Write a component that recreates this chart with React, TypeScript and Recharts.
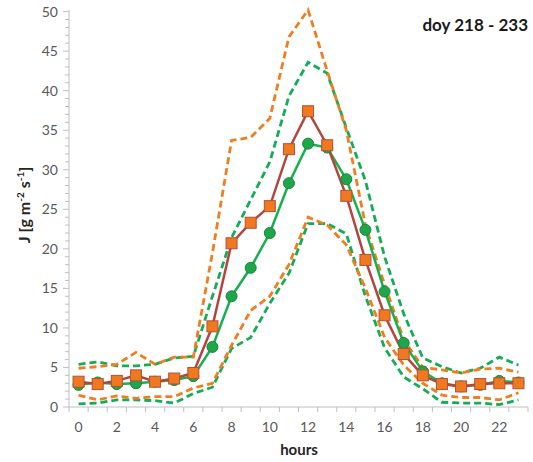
import { Line, LineChart, XAxis, YAxis } from "recharts";

const hours = [0, 1, 2, 3, 4, 5, 6, 7, 8, 9, 10, 11, 12, 13, 14, 15, 16, 17, 18, 19, 20, 21, 22, 23];
const orangeMean = [3.2, 2.9, 3.3, 4.0, 3.2, 3.6, 4.3, 10.2, 20.7, 23.3, 25.4, 32.6, 37.4, 33.1, 26.7, 18.6, 11.6, 6.7, 4.0, 2.9, 2.6, 2.9, 3.0, 3.0];
const greenMean = [2.8, 3.1, 2.9, 3.0, 3.2, 3.4, 3.9, 7.6, 14.0, 17.6, 22.0, 28.3, 33.3, 32.8, 28.8, 22.4, 14.6, 8.1, 4.5, 3.0, 2.6, 2.8, 3.3, 3.1];
const orangeUpper = [4.9, 5.1, 5.4, 6.9, 5.4, 6.3, 6.3, 19.5, 33.7, 34.1, 36.5, 46.8, 50.2, 42.5, 35.0, 23.0, 15.5, 8.5, 5.0, 4.7, 4.3, 4.8, 4.9, 4.4];
const greenUpper = [5.4, 5.7, 5.2, 5.2, 5.4, 6.2, 6.4, 14.0, 21.4, 26.2, 31.0, 39.3, 43.6, 42.2, 35.3, 28.6, 19.0, 11.8, 6.2, 5.1, 4.3, 4.9, 6.3, 5.3];
const orangeLower = [1.5, 0.9, 1.4, 1.1, 1.3, 1.3, 2.4, 3.0, 7.8, 12.2, 14.0, 18.0, 24.0, 23.0, 20.5, 15.0, 8.8, 5.3, 3.0, 1.5, 1.2, 1.2, 0.9, 1.8];
const greenLower = [0.4, 0.5, 0.9, 0.9, 0.8, 0.5, 1.7, 2.5, 7.4, 8.8, 13.1, 16.9, 23.2, 23.2, 21.9, 14.0, 7.5, 3.8, 2.3, 0.6, 0.5, 0.5, 0.3, 0.9];

const xLabels = [0, 2, 4, 6, 8, 10, 12, 14, 16, 18, 20, 22];
const yLabels = [0, 5, 10, 15, 20, 25, 30, 35, 40, 45, 50];

const data = hours.map((h, i) => ({
  hour: h,
  orangeMean: orangeMean[i],
  greenMean: greenMean[i],
  orangeUpper: orangeUpper[i],
  greenUpper: greenUpper[i],
  orangeLower: orangeLower[i],
  greenLower: greenLower[i],
}));

// minor ticks sit between the hours, labels on the even hours
const xTicks: number[] = [];
for (let v = -0.5; v <= 23.5; v += 0.5) xTicks.push(v);
const yTicks: number[] = [];
for (let v = 0; v <= 50; v++) yTicks.push(v);

const FONT = "Lato, 'Open Sans', sans-serif";
const AXIS = "#BFBFBF";

function XTick(props: any) {
  const { x, y, payload } = props;
  const v = payload.value;
  if (v % 1 !== 0) return <line x1={x} x2={x} y1={y} y2={y + 5} stroke={AXIS} />;
  if (xLabels.includes(v))
    return (
      <text x={x} y={y + 25} textAnchor="middle" fill="#595959" fontSize={14} fontFamily={FONT}>
        {v}
      </text>
    );
  return <g />;
}

function YTick(props: any) {
  const { x, y, payload } = props;
  const v = payload.value;
  if (yLabels.includes(v))
    return (
      <g>
        <line x1={x - 6} x2={x} y1={y} y2={y} stroke={AXIS} />
        <text x={x - 11} y={y + 5} textAnchor="end" fill="#595959" fontSize={14} fontFamily={FONT}>
          {v}
        </text>
      </g>
    );
  return <line x1={x - 4} x2={x} y1={y} y2={y} stroke={AXIS} />;
}

function SquareDot(props: any) {
  const { cx, cy } = props;
  if (cx == null || cy == null) return null;
  return <rect x={cx - 5.5} y={cy - 5.5} width={11} height={11} fill="#F0781E" stroke="#B5503A" strokeWidth={1} />;
}

function CircleDot(props: any) {
  const { cx, cy } = props;
  if (cx == null || cy == null) return null;
  return <circle cx={cx} cy={cy} r={5.5} fill="#1FA64A" stroke="#17873A" strokeWidth={1} />;
}

function YLabel() {
  return (
    <text transform="translate(30 205) rotate(-90)" textAnchor="middle" fill="#262626" fontSize={16} fontWeight="bold" fontFamily={FONT}>
      J [g m<tspan baseline-shift="super" fontSize={10}>-2</tspan> s<tspan baseline-shift="super" fontSize={10}>-1</tspan>]
    </text>
  );
}

function XLabel() {
  return (
    <text x={299} y={455} textAnchor="middle" fill="#262626" fontSize={15} fontWeight="bold" fontFamily={FONT}>
      hours
    </text>
  );
}

export default function App() {
  return (
    <div style={{ position: "absolute", left: 0, top: 0, width: 533, height: 462, background: "#fff" }}>
      <LineChart width={533} height={462} data={data} margin={{ top: 10, right: 5, left: 0, bottom: 0 }}>
        <XAxis
          dataKey="hour"
          type="number"
          domain={[-0.5, 23.5]}
          ticks={xTicks}
          interval={0}
          tickSize={0}
          tickMargin={0}
          tickLine={false}
          stroke={AXIS}
          tick={<XTick />}
          height={55}
          label={<XLabel />}
        />
        <YAxis
          type="number"
          domain={[0, 50]}
          ticks={yTicks}
          interval={0}
          tickSize={0}
          tickMargin={0}
          tickLine={false}
          stroke={AXIS}
          tick={<YTick />}
          width={69}
          label={<YLabel />}
        />
        <Line dataKey="greenUpper" stroke="#14AD55" strokeWidth={2.8} strokeDasharray="7 4" dot={false} isAnimationActive={false} />
        <Line dataKey="greenLower" stroke="#14AD55" strokeWidth={2.8} strokeDasharray="7 4" dot={false} isAnimationActive={false} />
        <Line dataKey="orangeUpper" stroke="#F07D1E" strokeWidth={2.8} strokeDasharray="7 4" dot={false} isAnimationActive={false} />
        <Line dataKey="orangeLower" stroke="#F07D1E" strokeWidth={2.8} strokeDasharray="7 4" dot={false} isAnimationActive={false} />
        <Line dataKey="greenMean" stroke="#16B04F" strokeWidth={2.5} dot={<CircleDot />} isAnimationActive={false} />
        <Line dataKey="orangeMean" stroke="#B5443F" strokeWidth={2.5} dot={<SquareDot />} isAnimationActive={false} />
      </LineChart>
      <div
        style={{
          position: "absolute",
          right: 5,
          top: 14,
          fontFamily: FONT,
          fontWeight: "bold",
          fontSize: 17,
          color: "#1a1a1a",
        }}
      >
        doy 218 - 233
      </div>
    </div>
  );
}
